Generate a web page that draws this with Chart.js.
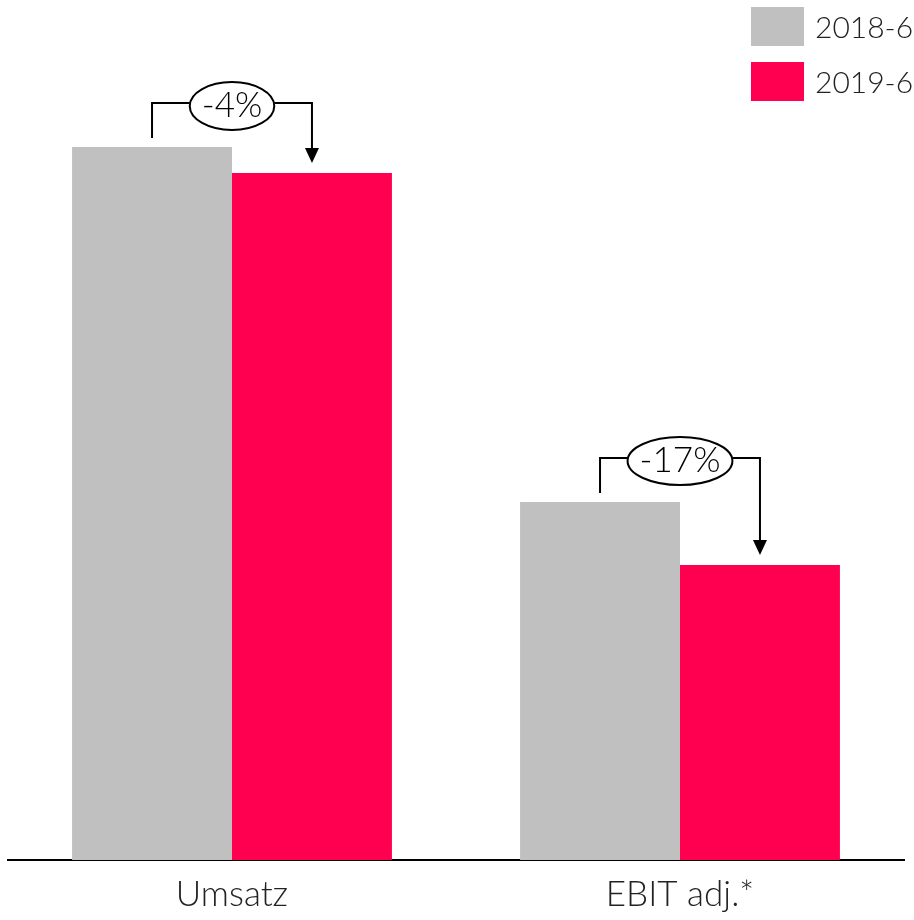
<!DOCTYPE html>
<html>
<head>
<meta charset="utf-8">
<script src="https://cdn.jsdelivr.net/npm/chart.js@4"></script>
<style>
  html, body { margin: 0; padding: 0; background: #fff; }
  #wrap { width: 914px; height: 920px; }
</style>
</head>
<body>
<div id="wrap"><canvas id="chartHalfYear"></canvas></div>
<script>
const categories = ['Umsatz', 'EBIT adj.*'];
const seriesNames = ['2018-6', '2019-6'];
const values2018 = [713, 358];
const values2019 = [687, 295];
const changeLabels = ['-4%', '-17%'];

const FONT = "Lato, 'Noto Sans', sans-serif";
const seriesColors = ['#c0c0c0', '#ff0050'];

// brackets with the change label between the two bars of each category
const changeBrackets = {
    id: 'changeBrackets',
    afterDatasetsDraw(chart) {
        const ctx = chart.ctx;
        const a = chart.getDatasetMeta(0).data;
        const b = chart.getDatasetMeta(1).data;
        ctx.save();
        ctx.strokeStyle = '#000';
        ctx.fillStyle = '#000';
        ctx.lineWidth = 2;
        ctx.font = '300 35px ' + FONT;
        for (let i = 0; i < categories.length; i++) {
            const x1 = a[i].x, x2 = b[i].x;
            const top = Math.min(a[i].y, b[i].y);
            const lineY = top - 44;
            const cx = chart.scales.x.getPixelForValue(i);
            const tw = ctx.measureText(changeLabels[i]).width;
            const rx = tw / 2 + 12, ry = 24;

            ctx.beginPath();
            ctx.moveTo(x1, a[i].y - 9);
            ctx.lineTo(x1, lineY);
            ctx.lineTo(cx - rx, lineY);
            ctx.moveTo(cx + rx, lineY);
            ctx.lineTo(x2, lineY);
            ctx.lineTo(x2, b[i].y - 24);
            ctx.stroke();

            // arrow head
            ctx.beginPath();
            ctx.moveTo(x2 - 7, b[i].y - 25);
            ctx.lineTo(x2 + 7, b[i].y - 25);
            ctx.lineTo(x2, b[i].y - 10);
            ctx.closePath();
            ctx.fill();

            ctx.beginPath();
            ctx.ellipse(cx, lineY + 3, rx, ry, 0, 0, Math.PI * 2);
            ctx.fillStyle = '#fff';
            ctx.fill();
            ctx.stroke();
            ctx.fillStyle = '#000';
            ctx.textAlign = 'center';
            ctx.textBaseline = 'middle';
            ctx.fillText(changeLabels[i], cx, lineY + 3);
        }
        ctx.restore();
    }
};

// vertical legend in the top right corner
const cornerLegend = {
    id: 'cornerLegend',
    afterDraw(chart) {
        const ctx = chart.ctx;
        ctx.save();
        ctx.font = '300 30px ' + FONT;
        ctx.textBaseline = 'middle';
        ctx.textAlign = 'left';
        chart.data.datasets.forEach((ds, i) => {
            const y = 7 + i * 55;
            ctx.fillStyle = ds.backgroundColor;
            ctx.fillRect(751, y, 53, 39);
            ctx.fillStyle = '#222';
            ctx.fillText(ds.label, 815, y + 21);
        });
        ctx.restore();
    }
};

new Chart(document.getElementById('chartHalfYear'), {
    type: 'bar',
    data: {
        labels: categories,
        datasets: [
            { label: seriesNames[0], data: values2018, backgroundColor: seriesColors[0] },
            { label: seriesNames[1], data: values2019, backgroundColor: seriesColors[1] },
        ],
    },
    options: {
        responsive: true,
        maintainAspectRatio: false,
        animation: false,
        layout: { padding: { left: 8, right: 10, top: 0, bottom: 0 } },
        datasets: {
            bar: { barPercentage: 1, categoryPercentage: 0.714 },
        },
        plugins: {
            legend: { display: false },
            tooltip: { enabled: false },
        },
        scales: {
            x: {
                grid: { display: false },
                border: { display: true, color: '#000', width: 2 },
                ticks: {
                    color: '#222',
                    padding: 6,
                    font: { family: FONT, size: 35, weight: '300' },
                },
                afterFit(scale) { scale.height = 60; },
            },
            y: {
                display: false,
                min: 0,
                max: 860,
            },
        },
    },
    plugins: [changeBrackets, cornerLegend],
});
</script>
</body>
</html>
